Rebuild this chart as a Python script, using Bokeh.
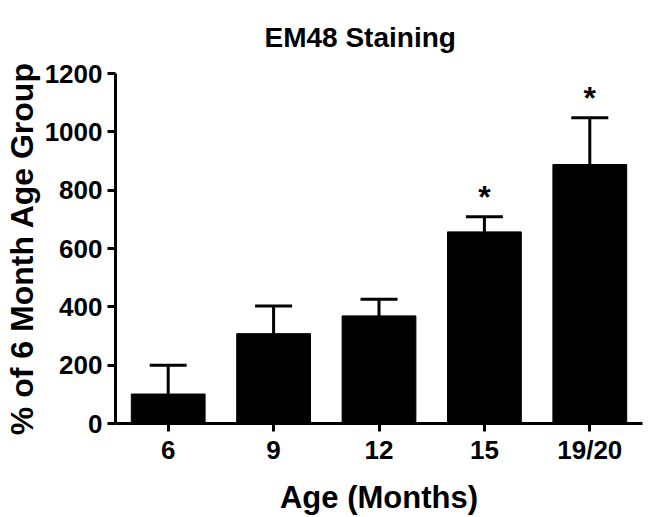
from bokeh.plotting import figure
from bokeh.models import ColumnDataSource, Range1d, FixedTicker, Whisker, TeeHead, FactorRange
from bokeh.core.properties import value
from bokeh.embed import file_html
from bokeh.resources import INLINE

ages = ["6", "9", "12", "15", "19/20"]
means = [101, 308, 369, 657, 888]
err_upper = [200, 403, 426, 709, 1048]
sig = ["", "", "", "*", "*"]
y_ticks = [0, 200, 400, 600, 800, 1000, 1200]
title_text = "EM48 Staining"

FONT = "Liberation Sans"

src = ColumnDataSource(dict(age=ages, mean=means, upper=err_upper, sig=sig))

p = figure(x_range=FactorRange(*ages, range_padding=0), y_range=Range1d(0, 1200),
           width=648, height=517, output_backend="svg", toolbar_location=None,
           min_border_left=114, min_border_right=6, min_border_top=73, min_border_bottom=93)
p.outline_line_color = None
p.grid.visible = False
p.background_fill_color = "white"

xax = p.below[0]
yax = p.left[0]

p.vbar(x="age", top="mean", bottom=0, width=0.7, source=src,
       fill_color="black", line_color="black")

w = Whisker(base="age", lower="mean", upper="upper", source=src,
            line_color="black", line_width=3,
            upper_head=TeeHead(size=37, line_color="black", line_width=3),
            lower_head=None)
p.add_layout(w)

p.text(x="age", y="upper", text="sig", source=src, text_align="center",
       text_baseline="alphabetic", y_offset=-20, text_font=value(FONT),
       text_font_size="32px", text_font_style="bold", text_color="black")

for ax in (xax, yax):
    ax.axis_line_width = 3
    ax.axis_line_color = "black"
    ax.major_tick_line_width = 3
    ax.major_tick_line_color = "black"
    ax.major_tick_in = 0
    ax.major_tick_out = 8
    ax.minor_tick_line_color = None
    ax.major_label_text_font = FONT
    ax.major_label_text_font_size = "26px"
    ax.major_label_text_font_style = "bold"
    ax.major_label_text_color = "black"
    ax.axis_label_text_font = FONT
    ax.axis_label_text_font_style = "bold"
    ax.axis_label_text_color = "black"

yax.ticker = FixedTicker(ticks=y_ticks)
yax.major_label_standoff = 5
yax.axis_label = "% of 6 Month Age Group"
yax.axis_label_text_font_size = "32px"
yax.axis_label_standoff = 2
xax.axis_label = "Age (Months)"
xax.axis_label_text_font_size = "31px"
xax.major_label_standoff = 3
xax.axis_label_standoff = 12

p.title.text = title_text
p.title.text_font = FONT
p.title.text_font_size = "28px"
p.title.text_font_style = "bold"
p.title.text_color = "black"
p.title.align = "left"
p.title.vertical_align = "top"
p.title.offset = 149
p.title.standoff = 38

open("out.html", "w").write(file_html(p, INLINE))
